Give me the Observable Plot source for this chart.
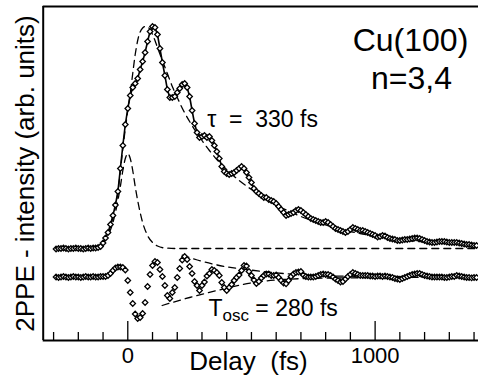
<!DOCTYPE html>
<html><head><meta charset="utf-8">
<script src="https://cdn.jsdelivr.net/npm/d3@7"></script>
<script src="https://cdn.jsdelivr.net/npm/@observablehq/plot@0.6"></script>
<style>body{margin:0;background:#fff;} svg{display:block;}</style>
</head><body><div id="chart"></div>
<script>
// Pump-probe delays (fs), sampled every 10 fs
const delays = d3.range(-290, 1411, 10);

// 2PPE intensity (arb. units), upper trace
const intensity = [
  91.5, 92, 92, 92.5, 92, 91.5, 92, 92, 92.5, 92,
  92, 91.5, 92, 92.5, 92, 92.5, 92.5, 93, 94, 97.5,
  102.5, 108, 116, 125, 135.5, 149, 172, 195, 216, 232,
  245, 253, 257, 262, 271, 279, 288, 299, 309, 314,
  313, 306, 292, 278, 265, 251, 243, 243, 244, 248,
  252, 256, 257, 253, 244, 230, 217, 208, 203, 204,
  205, 203, 204, 200, 195, 189, 182, 174, 169, 167,
  166, 167, 168, 170, 172, 174, 172, 168, 163, 158,
  152, 149, 147, 145, 143, 143, 141, 140, 139, 137,
  134, 131, 128, 125, 126, 127, 128, 130, 131, 130,
  128, 126, 124, 122, 121, 120, 119, 118, 118, 119,
  118, 116, 114, 112, 111, 110, 109, 108, 109, 111,
  113, 112, 111, 110, 110, 109, 108, 107, 106, 105,
  103.5, 104, 105, 104.5, 103, 102, 101.5, 101, 100, 100,
  100.5, 101, 101, 101.5, 102, 102.5, 102.5, 102, 101, 100,
  99, 98.5, 98, 98, 98.5, 99, 99, 99, 98.5, 98,
  98, 98, 98, 97.5, 97, 96.5, 96, 96, 95.5, 95, 95
];

// Oscillating residual (data minus fit), lower trace, offset
const oscillation = [
  63.5, 63, 63.5, 64, 63.5, 63, 63.5, 64, 63.5, 63.5,
  63, 63.5, 64, 63.5, 63.5, 64, 63.5, 63.5, 64, 64,
  64, 65, 67, 70, 72.5, 73.5, 73.5, 73, 70.5, 60,
  48, 37, 26.5, 22, 23, 27, 38, 54, 66, 75,
  79, 78, 71, 64, 55, 45, 42, 48, 53, 63,
  72, 80.5, 84, 81, 74, 67, 59, 55, 50, 55,
  58.5, 64.5, 67, 71, 70, 68, 65, 58, 53, 50,
  53, 56, 60, 63, 65.5, 70, 75, 74.5, 69, 65,
  60.5, 57, 59, 62.5, 65, 66.5, 66.5, 65, 65, 65.5,
  63, 60, 57.5, 56.7, 60, 64, 66.5, 68, 68.5, 69,
  65.5, 64, 63.5, 63.5, 63.5, 64, 65, 66, 66.5, 66,
  66, 65, 63.5, 61.5, 60, 58.5, 59, 61.5, 64, 66,
  68, 67, 66, 65, 65, 65, 65, 64.5, 64.5, 64,
  64.5, 64.5, 64, 64.5, 64, 63.5, 63, 62, 61.5, 61,
  62, 63, 64, 65, 66, 66.5, 67, 67, 66, 65,
  64.5, 64, 63.5, 63.5, 63.5, 63.5, 63.5, 63, 63, 63.5,
  64, 64, 65, 64.5, 64, 63.5, 63, 63, 62.7, 63, 63
];

// Exponential fit (tau = 330 fs), dashed
const fitDelays = [-290,-200,-140,-120,-100,-80,-60,-40,-20,0,10,20,30,40,50,60,70,80,90,100,110,120,140,160,180,200,225,250,275,300,330,360,400,450,500,550,600,650,700,750,800,850,900,950,1000,1050,1100,1150,1200,1250,1300,1350,1418];
const fitValues = [92,92,92.3,93,97,107,123,148,192,230,247,267,286,300,308.5,312.5,314,313.5,311,306,300,293,280,267,254,243,230,219,209,200,190,181,171,160,151,142.5,135.5,129.5,124,119.5,115.5,112,109,106.5,104.5,102.5,101,99.5,98.5,97.5,96.7,96,95.2];

// Laser cross-correlation, dashed
const pulseDelays = [-290,-200,-150,-120,-100,-80,-60,-50,-40,-30,-20,-10,0,10,20,30,40,50,60,80,100,120,150,200,1418];
const pulseValues = [92,92,92.5,94.5,98,105,118,128,140,154,170,182,187,182,170,154,140,128,118,105,98,94.5,92.5,92,92];

// Oscillation envelope (T_osc = 280 fs), dashed
const envUpperDelays = [220,281,361,496,629,820,1418];
const envUpperValues = [85.3,80.5,75.5,70.5,67,64.5,63.7];
const envLowerDelays = [139,250,361,496,629,820,1418];
const envLowerValues = [35,43,50,57.5,61,62.5,63.3];

// Axis ticks
const majorTicks = [0, 1000];
const tickLabels = ["0", "1000"];
const minorTicks = [-300,-200,-100,100,200,300,400,500,600,700,800,900,1100,1200,1300,1400];

const upper = delays.map((t, i) => ({t, v: intensity[i]}));
const lower = delays.map((t, i) => ({t, v: oscillation[i]}));
const fit = fitDelays.map((t, i) => ({t, v: fitValues[i]}));
const pulse = pulseDelays.map((t, i) => ({t, v: pulseValues[i]}));
const envU = envUpperDelays.map((t, i) => ({t, v: envUpperValues[i]}));
const envL = envLowerDelays.map((t, i) => ({t, v: envLowerValues[i]}));

const font = "'Liberation Sans', Arial, Helvetica, sans-serif";
const dash = {stroke: "#000", strokeWidth: 1.3, strokeDasharray: "7,5", curve: "monotone-x"};
const marker = {x: "t", y: "v", symbol: "diamond2", r: 2.5, fill: "#fff", stroke: "#000", strokeWidth: 1.25};

const plot = Plot.plot({
  width: 478, height: 377,
  marginLeft: 42.7, marginRight: 0, marginTop: 6, marginBottom: 37,
  x: {domain: [-342, 1418]},
  y: {domain: [0, 334], axis: null},
  style: {fontFamily: font, background: "#fff", color: "#000", overflow: "visible"},
  marks: [
    Plot.line(pulse, {x: "t", y: "v", ...dash}),
    Plot.line(fit, {x: "t", y: "v", ...dash}),
    Plot.line(envU, {x: "t", y: "v", ...dash}),
    Plot.line(envL, {x: "t", y: "v", ...dash}),
    Plot.line(upper, {x: "t", y: "v", stroke: "#000", strokeWidth: 1.6}),
    Plot.dot(upper, marker),
    Plot.dot(lower, marker),
    Plot.ruleY([0, 334], {stroke: "#000", strokeWidth: 2}),
    Plot.ruleX([-342], {stroke: "#000", strokeWidth: 2}),
    Plot.ruleX(minorTicks, {y1: 0, y2: 8, stroke: "#000", strokeWidth: 1.3}),
    Plot.ruleX(majorTicks, {y1: 0, y2: 19, stroke: "#000", strokeWidth: 1.3}),
    Plot.axisX({ticks: majorTicks, tickSize: 0, tickPadding: 7, fontSize: 22, label: null,
      tickFormat: d => tickLabels[majorTicks.indexOf(d)]}),
    Plot.text(["Delay\u00a0\u00a0(fs)"], {frameAnchor: "bottom", dx: -12.3, dy: 29, lineAnchor: "bottom", fontSize: 26}),
    Plot.text(["2PPE - intensity (arb. units)"], {frameAnchor: "left", dx: -9.7, rotate: -90, textAnchor: "middle", lineAnchor: "bottom", fontSize: 26}),
    Plot.text(["Cu(100)"], {x: 1143, y: 290, textAnchor: "middle", lineAnchor: "bottom", fontSize: 32}),
    Plot.text(["n=3,4"], {x: 1147, y: 252, textAnchor: "middle", lineAnchor: "bottom", fontSize: 32}),
    Plot.text(["\u03c4\u00a0\u00a0=\u00a0\u00a0330 fs"], {x: 321, y: 214, textAnchor: "start", lineAnchor: "bottom", fontSize: 23}),
    Plot.text(["TOSC_LABEL"], {x: 326, y: 25, textAnchor: "start", lineAnchor: "bottom", fontSize: 23})
  ]
});

// build subscript label
d3.select(plot).selectAll("text").filter(function() { return this.textContent === "TOSC_LABEL"; })
  .each(function() {
    const t = d3.select(this);
    t.text("");
    t.append("tspan").text("T");
    t.append("tspan").attr("font-size", 17).attr("dy", 5).text("osc");
    t.append("tspan").attr("font-size", 23).attr("dy", -5).text("\u00a0= 280 fs");
  });

document.getElementById("chart").appendChild(plot);
</script>
</body></html>
